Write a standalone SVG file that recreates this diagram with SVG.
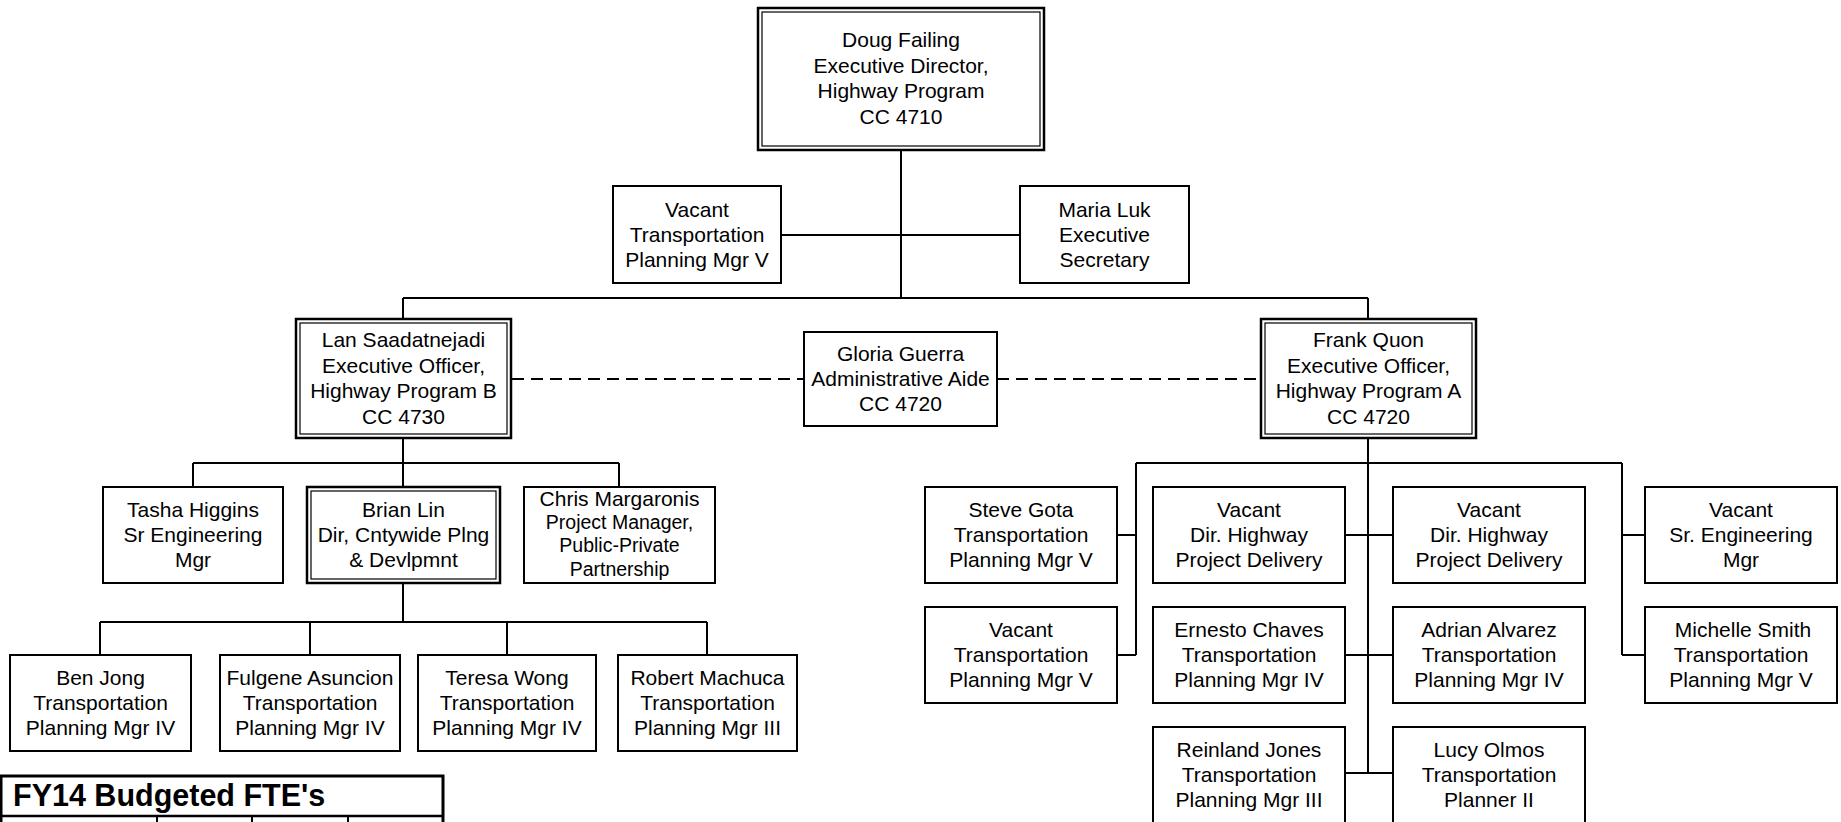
<svg xmlns="http://www.w3.org/2000/svg" width="1841" height="822" viewBox="0 0 1841 822">
<style>
.b{fill:#fff;stroke:#000;stroke-width:2}
.o{fill:#fff;stroke:#000;stroke-width:2.5}
.i{fill:none;stroke:#000;stroke-width:1.2}
.c{fill:none;stroke:#000;stroke-width:2}
.d{fill:none;stroke:#000;stroke-width:2;stroke-dasharray:12 7}
text{font-family:"Liberation Sans",Arial,sans-serif;font-size:21px;text-anchor:middle;fill:#000}
.s{font-size:19.5px}
.h{font-size:30.5px;font-weight:bold;text-anchor:start}
</style>
<rect width="1841" height="822" fill="#fff"/>
<g id="connectors">
<path class="c" d="M901 151V298M781 235H1020M403 298H1368M403 298V319M1368 298V319"/>
<path class="c" d="M403 438V487M193 463H619M193 463V487M619 463V487"/>
<path class="c" d="M403 583V622M100 622H707M100 622V655M310 622V655M507 622V655M707 622V655"/>
<path class="c" d="M1368 438V773M1136 463H1622M1136 463V655M1117 535H1136M1117 655H1136M1345 535H1393M1345 655H1393M1345 773H1393M1622 463V655M1622 535H1645M1622 655H1645"/>
<path class="d" d="M512 379H804M997 379H1260"/>
</g>
<g id="doug"><rect class="o" x="758" y="8" width="286" height="142"/><rect class="i" x="762" y="12" width="278" height="134"/>
<text x="901" y="47">Doug Failing</text><text x="901" y="72.5">Executive Director,</text><text x="901" y="98">Highway Program</text><text x="901" y="123.5">CC 4710</text></g>
<g id="vacant-top"><rect class="b" x="613" y="186" width="168" height="97"/>
<text x="697" y="217">Vacant</text><text x="697" y="242">Transportation</text><text x="697" y="267">Planning Mgr V</text></g>
<g id="maria"><rect class="b" x="1020" y="186" width="169" height="97"/>
<text x="1104.5" y="217">Maria Luk</text><text x="1104.5" y="242">Executive</text><text x="1104.5" y="267">Secretary</text></g>
<g id="lan"><rect class="o" x="296" y="319" width="215" height="119"/><rect class="i" x="300" y="323" width="207" height="111"/>
<text x="403.5" y="347">Lan Saadatnejadi</text><text x="403.5" y="372.5">Executive Officer,</text><text x="403.5" y="398">Highway Program B</text><text x="403.5" y="423.5">CC 4730</text></g>
<g id="gloria"><rect class="b" x="804" y="332" width="193" height="94"/>
<text x="900.5" y="361">Gloria Guerra</text><text x="900.5" y="386">Administrative Aide</text><text x="900.5" y="411">CC 4720</text></g>
<g id="frank"><rect class="o" x="1261" y="319" width="215" height="119"/><rect class="i" x="1265" y="323" width="207" height="111"/>
<text x="1368.5" y="347">Frank Quon</text><text x="1368.5" y="372.5">Executive Officer,</text><text x="1368.5" y="398">Highway Program A</text><text x="1368.5" y="423.5">CC 4720</text></g>
<g id="tasha"><rect class="b" x="103" y="487" width="180" height="96"/>
<text x="193" y="517">Tasha Higgins</text><text x="193" y="542">Sr Engineering</text><text x="193" y="567">Mgr</text></g>
<g id="brian"><rect class="o" x="307" y="487" width="193" height="96"/><rect class="i" x="311" y="491" width="185" height="88"/>
<text x="403.5" y="517">Brian Lin</text><text x="403.5" y="542">Dir, Cntywide Plng</text><text x="403.5" y="567">&amp; Devlpmnt</text></g>
<g id="chris"><rect class="b" x="524" y="487" width="191" height="96"/>
<text x="619.5" y="506">Chris Margaronis</text><text class="s" x="619.5" y="529">Project Manager,</text><text class="s" x="619.5" y="552">Public-Private</text><text class="s" x="619.5" y="576">Partnership</text></g>
<g id="ben"><rect class="b" x="10" y="655" width="181" height="96"/>
<text x="100.5" y="685">Ben Jong</text><text x="100.5" y="710">Transportation</text><text x="100.5" y="735">Planning Mgr IV</text></g>
<g id="fulgene"><rect class="b" x="220" y="655" width="180" height="96"/>
<text x="310" y="685">Fulgene Asuncion</text><text x="310" y="710">Transportation</text><text x="310" y="735">Planning Mgr IV</text></g>
<g id="teresa"><rect class="b" x="418" y="655" width="178" height="96"/>
<text x="507" y="685">Teresa Wong</text><text x="507" y="710">Transportation</text><text x="507" y="735">Planning Mgr IV</text></g>
<g id="robert"><rect class="b" x="618" y="655" width="179" height="96"/>
<text x="707.5" y="685">Robert Machuca</text><text x="707.5" y="710">Transportation</text><text x="707.5" y="735">Planning Mgr III</text></g>
<g id="steve"><rect class="b" x="925" y="487" width="192" height="96"/>
<text x="1021" y="517">Steve Gota</text><text x="1021" y="542">Transportation</text><text x="1021" y="567">Planning Mgr V</text></g>
<g id="vacant-dir1"><rect class="b" x="1153" y="487" width="192" height="96"/>
<text x="1249" y="517">Vacant</text><text x="1249" y="542">Dir. Highway</text><text x="1249" y="567">Project Delivery</text></g>
<g id="vacant-dir2"><rect class="b" x="1393" y="487" width="192" height="96"/>
<text x="1489" y="517">Vacant</text><text x="1489" y="542">Dir. Highway</text><text x="1489" y="567">Project Delivery</text></g>
<g id="vacant-sreng"><rect class="b" x="1645" y="487" width="192" height="96"/>
<text x="1741" y="517">Vacant</text><text x="1741" y="542">Sr. Engineering</text><text x="1741" y="567">Mgr</text></g>
<g id="vacant-tpm2"><rect class="b" x="925" y="607" width="192" height="96"/>
<text x="1021" y="637">Vacant</text><text x="1021" y="662">Transportation</text><text x="1021" y="687">Planning Mgr V</text></g>
<g id="ernesto"><rect class="b" x="1153" y="607" width="192" height="96"/>
<text x="1249" y="637">Ernesto Chaves</text><text x="1249" y="662">Transportation</text><text x="1249" y="687">Planning Mgr IV</text></g>
<g id="adrian"><rect class="b" x="1393" y="607" width="192" height="96"/>
<text x="1489" y="637">Adrian Alvarez</text><text x="1489" y="662">Transportation</text><text x="1489" y="687">Planning Mgr IV</text></g>
<g id="michelle"><rect class="b" x="1645" y="607" width="192" height="96"/>
<text x="1743" y="637">Michelle Smith</text><text x="1741" y="662">Transportation</text><text x="1741" y="687">Planning Mgr V</text></g>
<g id="reinland"><rect class="b" x="1153" y="727" width="192" height="96"/>
<text x="1249" y="757">Reinland Jones</text><text x="1249" y="782">Transportation</text><text x="1249" y="807">Planning Mgr III</text></g>
<g id="lucy"><rect class="b" x="1393" y="727" width="192" height="96"/>
<text x="1489" y="757">Lucy Olmos</text><text x="1489" y="782">Transportation</text><text x="1489" y="807">Planner II</text></g>
<g id="fte-table">
<path fill="none" stroke="#000" stroke-width="3" d="M1 824V776H443V824"/>
<path fill="none" stroke="#000" stroke-width="2.5" d="M1 816H443"/>
<path fill="none" stroke="#000" stroke-width="2" d="M157 816V824M252 816V824M348 816V824"/>
<text class="h" x="13" y="806">FY14 Budgeted FTE's</text>
</g>
</svg>
